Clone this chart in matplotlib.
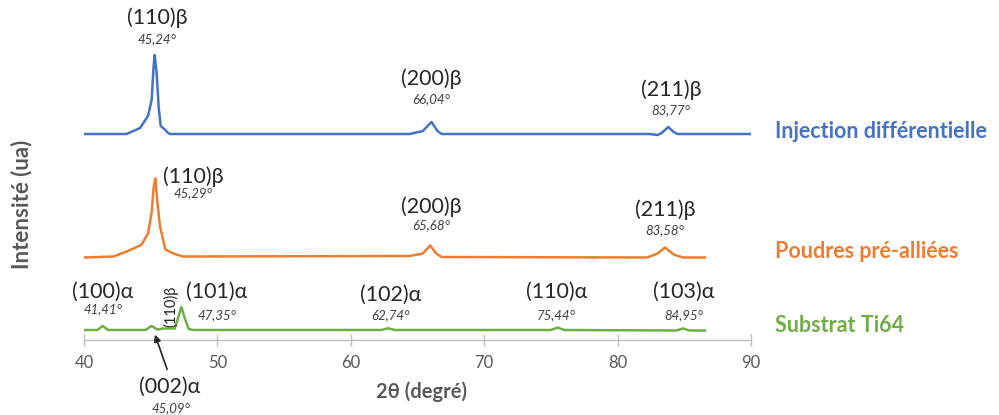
import matplotlib
matplotlib.use("Agg")
from matplotlib import pyplot as plt

plt.rcParams['font.family'] = ['Lato', 'DejaVu Sans']

# diffractogrammes (2theta, intensite au-dessus de la ligne de base, ua)
inj_2theta = [40, 43.2, 44.2, 44.8, 45.07, 45.22, 45.3, 45.45, 45.6, 45.75, 46.1, 46.3, 46.45,
              64.4, 65.4, 66.05, 66.5, 66.8, 82.4, 83.0, 83.3, 83.8, 84.2, 84.5, 90]
inj_int = [0, 0, 6, 18, 34, 68, 79, 60, 26, 8, 4, 1, 0,
           0, 3, 12, 3, 0, 0, -1, 1, 7, 2, 0, 0]

poudre_2theta = [40, 42.2, 43.2, 44.3, 44.8, 45.07, 45.22, 45.35, 45.5, 45.7, 46.1, 46.7, 47.4,
                 64.4, 65.4, 65.95, 66.4, 66.8, 82.2, 83.0, 83.55, 84.2, 84.9, 86.55]
poudre_int = [0, 1, 6, 12.5, 24, 45, 70, 79, 55, 31, 8, 4, 1,
              1.5, 4, 12, 4, 0.5, 0, 4, 10, 3, 0, 0]

substrat_2theta = [40, 41.0, 41.4, 41.8, 44.6, 45.07, 45.5, 45.9, 46.8, 47.05, 47.3, 47.55, 47.85, 48.2,
                   62.3, 62.8, 63.3, 75.0, 75.5, 76.0, 84.4, 84.9, 85.4, 86.55]
substrat_int = [0, 0, 4, 0, 0, 4, 0.5, 1.5, 1.5, 12, 23, 12, 1, 0,
                0, 1.7, 0, 0, 2.5, 0, -0.5, 1.5, -0.5, -0.5]

# decalage vertical de chaque courbe
offsets = [206, 82.5, 10]
names = ['Injection différentielle', 'Poudres pré-alliées', 'Substrat Ti64']
colors = ['#4472C4', '#ED7D31', '#70AD47']

# pics indexes : (hkl, angle, x, y hkl, y angle)
beta_peaks_inj = [('(110)β', '45,24°', 45.47, 322, 301), ('(200)β', '66,04°', 66.0, 261, 241),
                  ('(211)β', '83,77°', 84.0, 250, 230)]
beta_peaks_poudre = [('(110)β', '45,29°', 48.2, 163, 147), ('(200)β', '65,68°', 66.0, 133, 115),
                     ('(211)β', '83,58°', 83.55, 130, 110)]
alpha_peaks = [('(100)α', '41,41°', 41.42, 48, 31), ('(101)α', '47,35°', 49.97, 48, 25),
               ('(102)α', '62,74°', 63.0, 45, 25), ('(110)α', '75,44°', 75.4, 48, 25),
               ('(103)α', '84,95°', 84.98, 48, 25)]

fig = plt.figure(figsize=(9.99, 4.15), dpi=100)
ax = fig.add_axes([84 / 999, 75 / 415, 667 / 999, 330 / 415])

series = [(inj_2theta, inj_int), (poudre_2theta, poudre_int), (substrat_2theta, substrat_int)]
for (x, y), off, c in zip(series, offsets, colors):
    ax.plot(x, [v + off for v in y], color=c, linewidth=1.8, solid_joinstyle='round')

ax.set_xlim(40, 90)
ax.set_ylim(0, 330)
ax.set_yticks([])
for s in ['top', 'right', 'left']:
    ax.spines[s].set_visible(False)
ax.spines['bottom'].set_color('#BFBFBF')
ax.spines['bottom'].set_linewidth(1.0)
ax.set_xticks([40, 50, 60, 70, 80, 90])
ax.tick_params(axis='x', direction='inout', length=8, width=1.0, color='#BFBFBF',
               labelcolor='#595959', labelsize=12, pad=7)

hkl_style = dict(ha='center', va='center', fontsize=15.5, color='#262626')
ang_style = dict(ha='center', va='center', fontsize=9.5, style='italic', color='#404040')
for peaks in [beta_peaks_inj, beta_peaks_poudre, alpha_peaks]:
    for hkl, ang, x, y1, y2 in peaks:
        ax.text(x, y1, hkl, **hkl_style)
        ax.text(x, y2, ang, **ang_style)

ax.text(46.52, 34, '(110)β', rotation=90, ha='center', va='center', fontsize=10.5, color='#262626')

ax.annotate('', xy=(45.25, 8), xytext=(46.3, -32), annotation_clip=False,
            arrowprops=dict(arrowstyle='-|>', color='#262626', lw=1.2, mutation_scale=10))
ax.text(46.45, -47, '(002)α', clip_on=False, **hkl_style)
ax.text(46.52, -68, '45,09°', clip_on=False, **ang_style)

for name, c, ypix in zip(names, colors, [131, 251, 325]):
    fig.text(775 / 999, 1 - ypix / 415, name, color=c, fontsize=15.5, fontweight='bold',
             ha='left', va='center')

fig.text(421 / 999, 1 - 392 / 415, '2θ (degré)', color='#595959', fontsize=14.5,
         fontweight='bold', ha='center', va='center')
fig.text(22 / 999, 1 - 204 / 415, 'Intensité (ua)', color='#595959', fontsize=16,
         fontweight='bold', ha='center', va='center', rotation=90)

fig.savefig('out.png', dpi=100)
